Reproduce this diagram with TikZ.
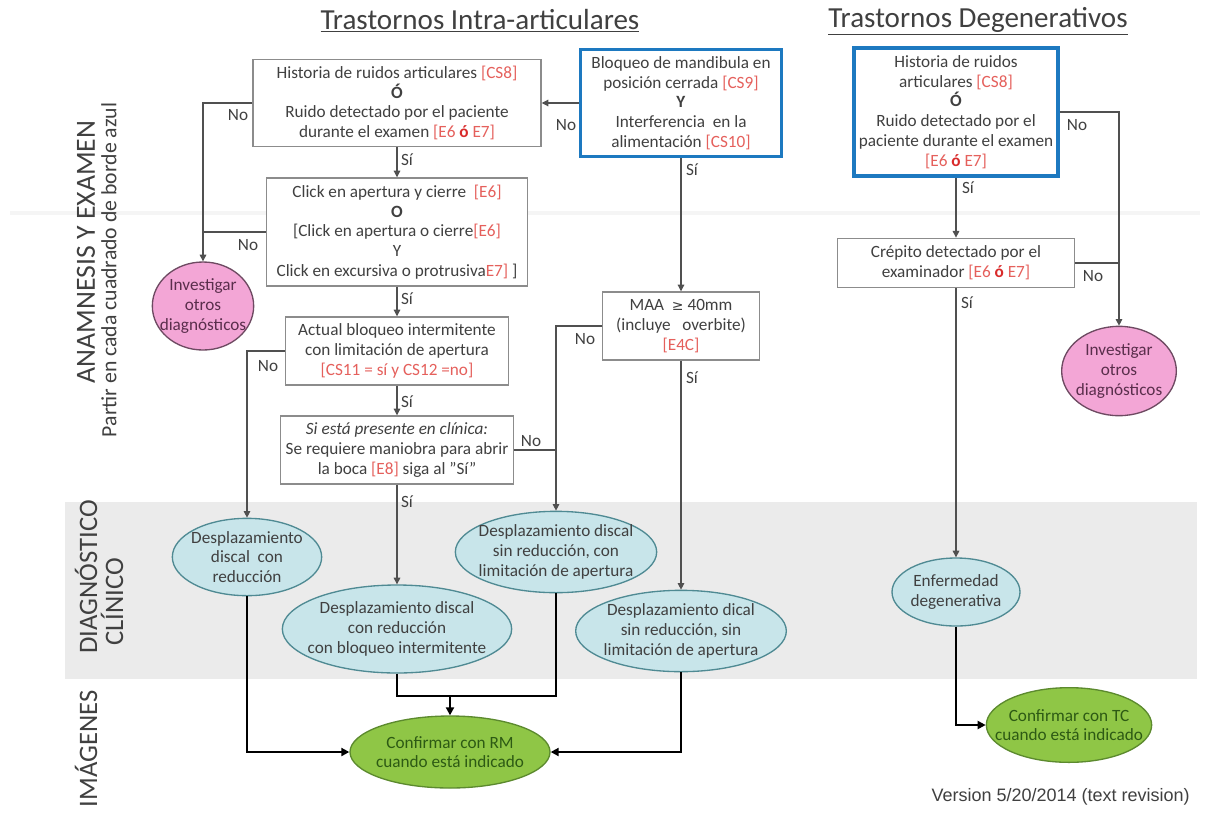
\documentclass[tikz,border=0pt]{standalone}
\usepackage{fontspec}
\setmainfont{Carlito}
\newfontfamily\arialfont{Liberation Sans}
\newfontfamily\symfont{DejaVu Sans}
\usetikzlibrary{shapes.geometric,arrows.meta}

\definecolor{txt}{HTML}{404040}
\definecolor{refred}{HTML}{E5605C}
\definecolor{ored}{HTML}{D92B2B}
\definecolor{boxline}{HTML}{8C8C8C}
\definecolor{bluebdr}{HTML}{1D79C0}
\definecolor{pinkfill}{HTML}{F3A6D6}
\definecolor{pinkline}{HTML}{6E4A62}
\definecolor{pinktxt}{HTML}{5A2E4C}
\definecolor{cyanfill}{HTML}{C8E5EA}
\definecolor{cyanline}{HTML}{4F8A93}
\definecolor{greenfill}{HTML}{8FC646}
\definecolor{greenline}{HTML}{5C8A2E}
\definecolor{greentxt}{HTML}{2D5A14}
\definecolor{band}{HTML}{EBEBEB}
\definecolor{connc}{HTML}{505050}

\newcommand\fs{\fontsize{12.9}{14.8}\selectfont}
\newcommand\rf[1]{\textcolor{refred}{#1}}
\newcommand\ob{\textcolor{ored}{\textbf{ó}}}

\tikzset{
  box/.style={draw=boxline, line width=1.1pt, fill=white, align=center,
    inner sep=0pt, text=txt, font=\fs},
  bluebox/.style={box, draw=bluebdr, line width=2.3pt},
  ell/.style={ellipse, line width=1pt, align=center, inner sep=-12pt, font=\fs},
  pinkell/.style={ell, draw=pinkline, fill=pinkfill, text=pinktxt},
  cyanell/.style={ell, draw=cyanline, fill=cyanfill, text=txt},
  greenell/.style={ell, draw=greenline, fill=greenfill, text=greentxt},
  conn/.style={draw=connc, line width=0.8pt, -{Triangle[length=5pt,width=5pt]}},
  plain/.style={draw=connc, line width=0.8pt},
  thk/.style={draw=black, line width=1.8pt},
  thkarrow/.style={thk, -{Triangle[length=6pt,width=6pt]}},
  lab/.style={font=\fs, text=txt, inner sep=0pt},
  sidelab/.style={rotate=90, text=txt, inner sep=0pt}
}

\begin{document}
\begin{tikzpicture}[x=0.75pt, y=-0.75pt]
\useasboundingbox (0,0) rectangle (1210,822);
\fill[white] (0,0) rectangle (1210,822);

% section backgrounds
\fill[band] (65,502) rectangle (1197,679);
\draw[black!4, line width=2.5pt] (10,213) -- (1200,213);

% column headings
\node[text=txt, font=\fontsize{21.8}{24}\selectfont] (t1) at (480,21)
  {\underline{Trastornos Intra-articulares}};
\node[text=txt, font=\fontsize{21.8}{24}\selectfont] (t2) at (978,21)
  {\underline{Trastornos Degenerativos}};

% row headings
\node[sidelab, font=\fontsize{20.8}{24}\selectfont] (r1) at (86,252) {ANAMNESIS Y EXAMEN};
\node[sidelab, font=\fontsize{16.3}{19}\selectfont] (r1b) at (109,270) {Partir en cada cuadrado de borde azul};
\node[sidelab, font=\fontsize{20}{24}\selectfont] (r2) at (86,577) {DIAGNÓSTICO};
\node[sidelab, font=\fontsize{20}{24}\selectfont] (r2b) at (112,602) {CLÍNICO};
\node[sidelab, font=\fontsize{20}{24}\selectfont] (r3) at (86,749) {IMÁGENES};

% intra-articular decision boxes
\node[box, minimum width=216pt, minimum height=65pt] (A) at (397,103)
  {Historia de ruidos articulares \rf{[CS8]}\\ \textbf{Ó}\\ Ruido detectado por el paciente\\ durante el examen \rf{[E6 \ob{} E7]}};
\node[bluebox, minimum width=151pt, minimum height=80pt] (B) at (681,103)
  {Bloqueo de mandibula en\\ posición cerrada \rf{[CS9]}\\ \textbf{Y}\\ Interferencia \ en la\\ alimentación \rf{[CS10]}};
\node[box, minimum width=196pt, minimum height=81pt] (C) at (397,232)
  {Click en apertura y cierre \ \rf{[E6]}\\ \textbf{O}\\ {[}Click en apertura o cierre\rf{[E6]}\\ Y\\ Click en excursiva o protrusiva\rf{E7]} ]};
\node[box, minimum width=167pt, minimum height=51pt] (D) at (397,351)
  {Actual bloqueo intermitente\\ con limitación de apertura\\ \rf{[CS11 = sí y CS12 =no]}};
\node[box, minimum width=175pt, minimum height=51pt] (E) at (397,450)
  {\textit{Si está presente en clínica:}\\ Se requiere maniobra para abrir\\ la boca \rf{[E8]} siga al "Sí"};
\node[box, minimum width=118pt, minimum height=51pt] (F) at (681,326)
  {MAA \ {\symfont\fontsize{10.5}{12}\selectfont ≥} 40mm\\ (incluye \ \ overbite)\\ \rf{[E4C]}};

% degenerative decision boxes
\node[bluebox, minimum width=153pt, minimum height=96pt] (G) at (956,112)
  {Historia de ruidos\\ articulares \rf{[CS8]}\\ \textbf{Ó}\\ Ruido detectado por el\\ paciente durante el examen\\ \rf{[E6 \ob{} E7]}};
\node[box, minimum width=178pt, minimum height=37pt] (H) at (956,263)
  {Crépito detectado por el\\ examinador \rf{[E6 \ob{} E7]}};

% outcome ellipses
\node[pinkell, minimum width=76pt, minimum height=66pt] (pL) at (203,306)
  {Investigar\\ otros\\ diagnósticos};
\node[pinkell, minimum width=86pt, minimum height=67pt] (pR) at (1119,371)
  {Investigar\\ otros\\ diagnósticos};
\node[cyanell, minimum width=112pt, minimum height=58pt] (e1) at (247,557)
  {Desplazamiento\\ discal \ con\\ reducción};
\node[cyanell, minimum width=172pt, minimum height=66pt] (e2) at (397,629)
  {Desplazamiento discal\\ con reducción\\ con bloqueo intermitente};
\node[cyanell, minimum width=151pt, minimum height=61pt] (e3) at (556,552)
  {Desplazamiento discal\\ sin reducción, con\\ limitación de apertura};
\node[cyanell, minimum width=158pt, minimum height=61pt] (e4) at (681,631)
  {Desplazamiento dical\\ sin reducción, sin\\ limitación de apertura};
\node[cyanell, minimum width=96pt, minimum height=51pt] (e5) at (956,592)
  {Enfermedad\\ degenerativa};
\node[greenell, minimum width=150pt, minimum height=54pt] (rm) at (450,752)
  {Confirmar con RM\\ cuando está indicado};
\node[greenell, minimum width=124pt, minimum height=56pt] (tc) at (1069,725)
  {Confirmar con TC\\ cuando está indicado};

% version note
\node[anchor=east, text=txt, font=\arialfont\fontsize{13.5}{16}\selectfont, inner sep=0pt] (ver) at (1190,797)
  {Version 5/20/2014 (text revision)};

% intra-articular connectors
\draw[conn] (B.west) -- (A.east);
\draw[conn] (A.west) -| (pL.north);
\draw[plain] (C.west) -- (C.west -| pL.north);
\draw[conn] (A.south) -- (C.north);
\draw[conn] (C.south) -- (D.north);
\draw[conn] (D.south) -- (E.north);
\draw[conn] (E.south) -- (e2.north);
\draw[conn] (D.west) -| (e1.north);
\draw[conn] (F.west) -| (e3.north);
\draw[plain] (E.east) -- (E.east -| e3.north);
\draw[conn] (B.south) -- (F.north);
\draw[conn] (F.south) -- (e4.north);

% degenerative connectors
\draw[conn] (G.south) -- (H.north);
\draw[conn] (G.east) -| (pR.north);
\draw[plain] (H.east) -- (H.east -| pR.north);
\draw[conn] (H.south) -- (e5.north);

% imaging connectors
\coordinate (mrg) at (450,696);
\draw[thkarrow] (e1.south) |- (rm.west);
\draw[thk] (e2.south) |- (mrg -| e3.south) -- (e3.south);
\draw[thkarrow] (mrg) -- (rm.north);
\draw[thkarrow] (e4.south) |- (rm.east);
\draw[thkarrow] (e5.south) |- (tc.west);

% branch labels
\node[lab] (l1) at (238,115) {No};
\node[lab] (l2) at (566,125) {No};
\node[lab] (l3) at (407,160) {Sí};
\node[lab] (l4) at (248,245) {No};
\node[lab] (l5) at (407,299) {Sí};
\node[lab] (l6) at (268,366) {No};
\node[lab] (l7) at (407,402) {Sí};
\node[lab] (l8) at (531,441) {No};
\node[lab] (l9) at (407,502) {Sí};
\node[lab] (l10) at (692,170) {Sí};
\node[lab] (l11) at (585,339) {No};
\node[lab] (l12) at (692,378) {Sí};
\node[lab] (l13) at (1077,125) {No};
\node[lab] (l14) at (968,188) {Sí};
\node[lab] (l15) at (1093,276) {No};
\node[lab] (l16) at (967,303) {Sí};
\end{tikzpicture}
\end{document}
